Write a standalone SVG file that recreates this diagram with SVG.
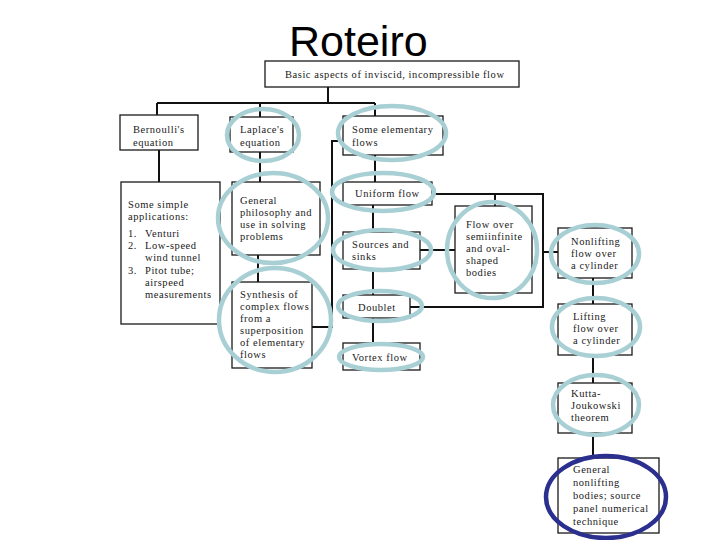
<svg xmlns="http://www.w3.org/2000/svg" width="720" height="540" viewBox="0 0 720 540">
<style>
.box{fill:none;stroke:#1a1a1a;stroke-width:1.3}
.t{font-family:"Liberation Serif","Times New Roman",serif;font-size:10.5px;letter-spacing:0.55px;fill:#1a1a1a}
.c{fill:none;stroke:#111;stroke-width:2}
.hl{fill:none;stroke:#a8cfd4;stroke-width:4.5}
.hd{fill:none;stroke:#2b2f8e;stroke-width:4.5}
</style>
<rect width="720" height="540" fill="#fff"/>
<text x="289" y="56" font-family="Liberation Sans,Arial,sans-serif" font-size="43" fill="#000">Roteiro</text>
<g id="connectors">
<path class="c" d="M328 87V103M157 103H375M157 103V115M260 103V117M375 103V116"/>
<path class="c" d="M159 150V182M260 152V182M258 255V282"/>
<path class="c" d="M312 327H332V141H343"/>
<path class="c" d="M375 155V182M373 205V232M373 269V295M373 318V343"/>
<path class="c" d="M432 194H543V307H410M495 194V206"/>
<path class="c" stroke-width="3" d="M420 250H455M543 252H558"/>
<path class="c" d="M593 278V304M593 355V383M593 433V458"/>
</g>
<g id="n-top"><rect class="box" x="265" y="61" width="254" height="26"/><text class="t" x="285" y="78">Basic aspects of inviscid, incompressible flow</text></g>
<g id="n-bernoulli"><rect class="box" x="120" y="115" width="78" height="35"/><text class="t" x="133" y="133">Bernoulli's</text><text class="t" x="133" y="146">equation</text></g>
<g id="n-laplace"><rect class="box" x="230" y="117" width="63" height="35"/><text class="t" x="240" y="133">Laplace's</text><text class="t" x="240" y="146">equation</text><ellipse class="hl" cx="263" cy="135" rx="36" ry="26"/></g>
<g id="n-elementary"><rect class="box" x="343" y="116" width="100" height="39"/><text class="t" x="352" y="133">Some elementary</text><text class="t" x="352" y="146">flows</text><ellipse class="hl" cx="392" cy="133" rx="54" ry="27"/></g>
<g id="n-applications"><rect class="box" x="121" y="182" width="99" height="142"/><text class="t" x="128" y="208">Some simple</text><text class="t" x="128" y="220">applications:</text><text class="t" x="128" y="237">1.</text><text class="t" x="145" y="237">Venturi</text><text class="t" x="128" y="249">2.</text><text class="t" x="145" y="249">Low-speed</text><text class="t" x="145" y="261">wind tunnel</text><text class="t" x="128" y="274">3.</text><text class="t" x="145" y="274">Pitot tube;</text><text class="t" x="145" y="286">airspeed</text><text class="t" x="145" y="298">measurements</text></g>
<g id="n-general"><rect class="box" x="232" y="182" width="88" height="73"/><text class="t" x="240" y="204">General</text><text class="t" x="240" y="216">philosophy and</text><text class="t" x="240" y="228">use in solving</text><text class="t" x="240" y="240">problems</text><ellipse class="hl" cx="273" cy="218" rx="55" ry="45"/></g>
<g id="n-synthesis"><rect class="box" x="232" y="282" width="80" height="86"/><text class="t" x="240" y="298">Synthesis of</text><text class="t" x="240" y="310">complex flows</text><text class="t" x="240" y="322">from a</text><text class="t" x="240" y="334">superposition</text><text class="t" x="240" y="346">of elementary</text><text class="t" x="240" y="358">flows</text><ellipse class="hl" cx="275" cy="320" rx="56" ry="52"/></g>
<g id="n-uniform"><rect class="box" x="343" y="182" width="89" height="23"/><text class="t" x="355" y="197">Uniform flow</text><ellipse class="hl" cx="383" cy="192" rx="51" ry="19"/></g>
<g id="n-sources"><rect class="box" x="343" y="232" width="77" height="37"/><text class="t" x="352" y="248">Sources and</text><text class="t" x="352" y="260">sinks</text><ellipse class="hl" cx="382" cy="250" rx="49" ry="20"/></g>
<g id="n-doublet"><rect class="box" x="343" y="295" width="67" height="23"/><text class="t" x="358" y="311">Doublet</text><ellipse class="hl" cx="380" cy="306" rx="42" ry="15"/></g>
<g id="n-vortex"><rect class="box" x="343" y="343" width="77" height="27"/><text class="t" x="352" y="361">Vortex flow</text><ellipse class="hl" cx="381" cy="357" rx="42" ry="13"/></g>
<g id="n-flowover"><rect class="box" x="455" y="206" width="77" height="87"/><text class="t" x="466" y="228">Flow over</text><text class="t" x="466" y="240">semiinfinite</text><text class="t" x="466" y="252">and oval-</text><text class="t" x="466" y="264">shaped</text><text class="t" x="466" y="276">bodies</text><ellipse class="hl" cx="492" cy="250" rx="45" ry="48"/></g>
<g id="n-nonlifting"><rect class="box" x="558" y="228" width="74" height="50"/><text class="t" x="571" y="245">Nonlifting</text><text class="t" x="571" y="257">flow over</text><text class="t" x="571" y="269">a cylinder</text><ellipse class="hl" cx="595" cy="254" rx="44" ry="29"/></g>
<g id="n-lifting"><rect class="box" x="558" y="304" width="74" height="51"/><text class="t" x="573" y="320">Lifting</text><text class="t" x="573" y="332">flow over</text><text class="t" x="573" y="344">a cylinder</text><ellipse class="hl" cx="596" cy="327" rx="44" ry="29"/></g>
<g id="n-kutta"><rect class="box" x="558" y="383" width="74" height="50"/><text class="t" x="571" y="397">Kutta-</text><text class="t" x="571" y="409">Joukowski</text><text class="t" x="571" y="421">theorem</text><ellipse class="hl" cx="596" cy="405" rx="43" ry="30"/></g>
<g id="n-panel"><rect class="box" x="558" y="458" width="101" height="75"/><text class="t" x="573" y="473">General</text><text class="t" x="573" y="486">nonlifting</text><text class="t" x="573" y="499">bodies; source</text><text class="t" x="573" y="512">panel numerical</text><text class="t" x="573" y="525">technique</text><ellipse class="hd" cx="606" cy="497" rx="60" ry="41"/></g>
</svg>
